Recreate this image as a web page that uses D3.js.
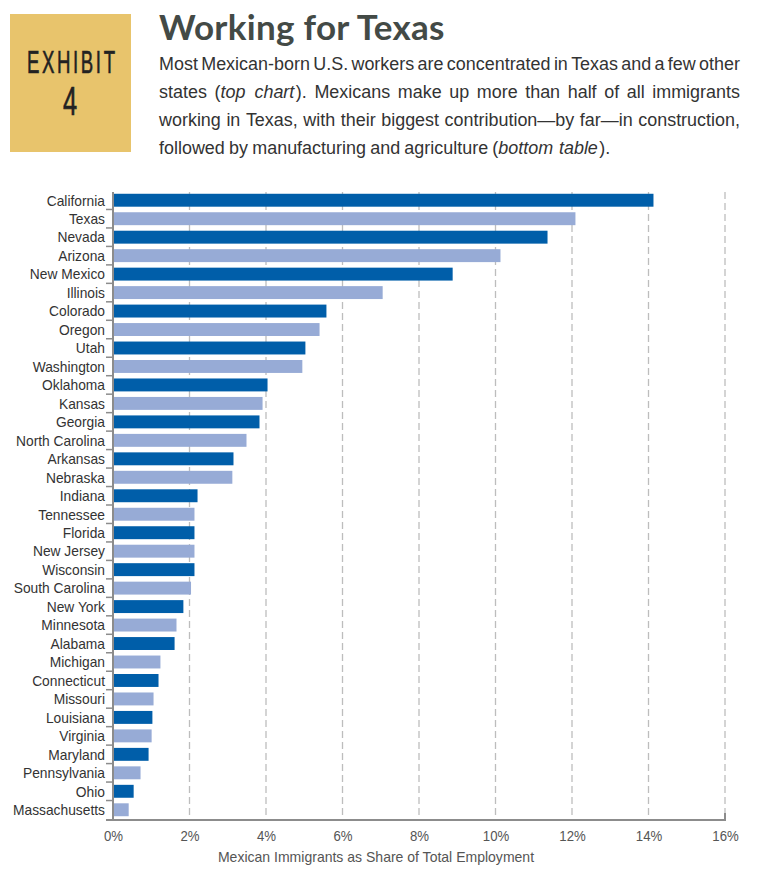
<!DOCTYPE html>
<html>
<head>
<meta charset="utf-8">
<script src="https://cdn.jsdelivr.net/npm/d3@7"></script>
<style>
  body { margin: 0; background: #fff; }
  svg { display: block; }
</style>
</head>
<body>
<div id="chart"></div>
<script>
// states, top to bottom
var states = ["California","Texas","Nevada","Arizona","New Mexico","Illinois","Colorado","Oregon","Utah","Washington",
  "Oklahoma","Kansas","Georgia","North Carolina","Arkansas","Nebraska","Indiana","Tennessee","Florida","New Jersey",
  "Wisconsin","South Carolina","New York","Minnesota","Alabama","Michigan","Connecticut","Missouri","Louisiana",
  "Virginia","Maryland","Pennsylvania","Ohio","Massachusetts"];
// share of total employment, %
var shares = [14.13,12.09,11.36,10.13,8.88,7.05,5.58,5.40,5.03,4.95,
  4.04,3.91,3.83,3.49,3.15,3.12,2.21,2.13,2.13,2.13,
  2.13,2.04,1.84,1.66,1.61,1.24,1.19,1.06,1.03,
  1.01,0.93,0.72,0.54,0.41];
var xTicks = [0,2,4,6,8,10,12,14,16];

var titleText = "Working for Texas";
var introLines = [
  [["Most Mexican-born U.S. workers are concentrated in Texas and a few other", false]],
  [["states (", false], ["top chart", true], ["). Mexicans make up more than half of all immigrants", false]],
  [["working in Texas, with their biggest contribution\u2014by far\u2014in construction,", false]],
  [["followed by manufacturing and agriculture (", false], ["bottom table", true], [").", false]]
];
var axisTitle = "Mexican Immigrants as Share of Total Employment";

var W = 760, H = 869;
var sans = "'Liberation Sans', Arial, sans-serif";

var svg = d3.select("#chart").append("svg")
    .attr("width", W)
    .attr("height", H);

// text squeezed horizontally to look like a condensed face
function narrowText(parent, x, y, sx, size){
    return parent.append("text")
        .attr("transform", "translate(" + x + "," + y + ") scale(" + sx + ",1)")
        .attr("font-family", sans)
        .attr("font-size", size);
}

// exhibit box
svg.append("rect")
    .attr("x", 10).attr("y", 14)
    .attr("width", 121).attr("height", 138)
    .attr("fill", "#e8c46c");
narrowText(svg, 27, 72.5, 0.6, 31)
    .attr("fill", "#222")
    .attr("stroke", "#222").attr("stroke-width", 0.6)
    .attr("textLength", 88 / 0.6)
    .attr("lengthAdjust", "spacing")
    .text("EXHIBIT");
narrowText(svg, 70, 115, 0.62, 41)
    .attr("text-anchor", "middle")
    .attr("fill", "#222")
    .attr("stroke", "#222").attr("stroke-width", 0.7)
    .text("4");

// title
svg.append("text")
    .attr("x", 159).attr("y", 40)
    .attr("font-family", "Lato, sans-serif")
    .attr("font-weight", "bold")
    .attr("font-size", 35)
    .attr("letter-spacing", 0.3)
    .attr("fill", "#434a46")
    .text(titleText);

// intro paragraph, justified by hand
var textLeft = 159, textRight = 740;
var baselines = [70, 98, 126, 154];
var paraSize = 18.5;

// find squeeze so the last (unjustified) line is as wide as in print
var probe = svg.append("text").attr("font-family", sans).attr("font-size", paraSize)
    .text("followed by manufacturing and agriculture (bottom table).");
var paraSx = 453 / probe.node().getComputedTextLength();
probe.remove();
var spaceW = 4.2;

introLines.forEach(function(segs, li){
    var words = [];
    segs.forEach(function(s){
        var parts = s[0].split(" ");
        parts.forEach(function(p, pi){
            if (pi > 0) words.push({space: true});
            if (p.length) words.push({t: p, it: s[1]});
        });
    });
    var groups = [[]];
    words.forEach(function(w){
        if (w.space) groups.push([]);
        else groups[groups.length-1].push(w);
    });
    groups = groups.filter(function(g){ return g.length; });

    var g = svg.append("g");
    var items = [];
    groups.forEach(function(grp){
        var pieces = [];
        grp.forEach(function(w){
            var t = g.append("text")
                .attr("font-family", sans)
                .attr("font-size", paraSize)
                .attr("font-style", w.it ? "italic" : "normal")
                .attr("fill", "#333")
                .text(w.t);
            pieces.push({node: t, w: t.node().getComputedTextLength() * paraSx + (w.it ? 1.5 : 0)});
        });
        items.push(pieces);
    });
    var widths = items.map(function(p){ return d3.sum(p, function(d){ return d.w; }); });
    var total = d3.sum(widths);
    var last = li === introLines.length - 1;
    var gap = last ? spaceW : (textRight - textLeft - total) / (items.length - 1);
    var x = textLeft;
    items.forEach(function(p){
        p.forEach(function(piece){
            piece.node.attr("transform", "translate(" + x + "," + baselines[li] + ") scale(" + paraSx + ",1)");
            x += piece.w;
        });
        x += gap;
    });
});

// chart
var margin = {top: 191, left: 113};
var plotW = 16 * 38.25;
var plotBottom = 820;

var xScale = d3.scaleLinear().domain([0, 16]).range([margin.left, margin.left + plotW]);
var yScale = d3.scaleBand().domain(states).range([margin.top, 819]).paddingInner(0.3).paddingOuter(0.15);

// dashed gridlines
svg.append("g")
    .selectAll("line")
    .data(xTicks.filter(function(d){ return d > 0; }))
    .enter().append("line")
        .attr("x1", function(d){ return xScale(d); })
        .attr("x2", function(d){ return xScale(d); })
        .attr("y1", 192)
        .attr("y2", plotBottom)
        .attr("stroke", "#bdbdbd")
        .attr("stroke-width", 1.3)
        .attr("stroke-dasharray", "7,4");

// bars
svg.append("g")
    .selectAll("rect")
    .data(states)
    .enter().append("rect")
        .attr("x", xScale(0) + 1)
        .attr("y", function(d){ return yScale(d); })
        .attr("width", function(d, i){ return xScale(shares[i]) - xScale(0) - 1; })
        .attr("height", yScale.bandwidth())
        .attr("fill", function(d, i){ return i % 2 === 0 ? "#005ea9" : "#97abd6"; });

// left axis with ticks between bars
var stepY = yScale.step();
var leftAx = svg.append("g");
leftAx.append("line")
    .attr("x1", margin.left).attr("x2", margin.left)
    .attr("y1", 192).attr("y2", plotBottom)
    .attr("stroke", "#8c8c8c").attr("stroke-width", 2);
leftAx.selectAll(".tk")
    .data(states.slice(1))
    .enter().append("line")
        .attr("x1", margin.left - 7).attr("x2", margin.left)
        .attr("y1", function(d){ return yScale(d) - stepY * 0.3 / 2; })
        .attr("y2", function(d){ return yScale(d) - stepY * 0.3 / 2; })
        .attr("stroke", "#8c8c8c").attr("stroke-width", 1.5);
states.forEach(function(d){
    narrowText(leftAx, 105, yScale(d) + yScale.bandwidth() / 2 + 5.3, 0.92, 15)
        .attr("text-anchor", "end")
        .attr("fill", "#333")
        .text(d);
});

// bottom axis
var xAxis = svg.append("g")
    .attr("transform", "translate(0," + plotBottom + ")")
    .call(d3.axisBottom(xScale).tickValues(xTicks).tickSize(0).tickPadding(10)
        .tickFormat(function(d){ return d + "%"; }));
xAxis.select(".domain").remove();
xAxis.selectAll("text")
    .attr("transform", "scale(0.88,1)")
    .attr("font-family", sans)
    .attr("font-size", 15)
    .attr("fill", "#555");
svg.append("line")
    .attr("x1", 106).attr("x2", xScale(16) + 1)
    .attr("y1", plotBottom).attr("y2", plotBottom)
    .attr("stroke", "#8c8c8c").attr("stroke-width", 2);
svg.append("line")
    .attr("x1", xScale(16)).attr("x2", xScale(16))
    .attr("y1", plotBottom - 7).attr("y2", plotBottom + 1)
    .attr("stroke", "#8c8c8c").attr("stroke-width", 2);

narrowText(svg, 376, 862, 0.935, 15)
    .attr("text-anchor", "middle")
    .attr("fill", "#555")
    .text(axisTitle);
</script>
</body>
</html>
